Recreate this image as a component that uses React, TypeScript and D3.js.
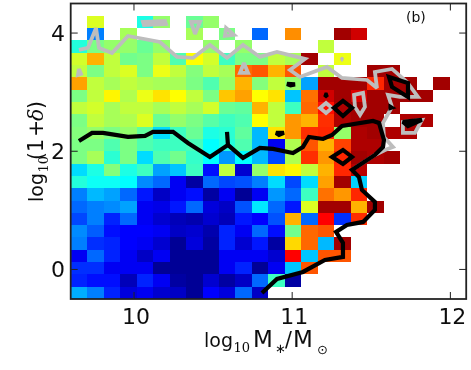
import React, { useRef, useEffect } from "react";
import * as d3 from "d3";

const _ = null;
// colour value (0-1 on the jet map) per cell, top row first, 24 x 24 bins
const densityRows = [
  [_, _, _, _, _, _, _, _, _, _, _, _, _, _, _, _, _, _, _, _, _, _, _, _],
  [_, .58, _, _, .36, .5, _, .45, .5, _, _, _, _, _, _, _, _, _, _, _, _, _, _, _],
  [_, .22, _, .52, _, _, _, .52, _, .47, _, .2, _, .74, _, _, .97, .93, _, _, _, _, _, _],
  [.37, .47, .5, .5, .45, .5, _, _, .5, _, .5, _, _, _, _, .55, _, _, _, _, _, _, _, _],
  [.57, .7, .55, .46, .47, .55, .42, .62, .57, .4, .47, .47, .55, .52, .97, _, .6, _, _, _, _, _, _, _],
  [.55, .47, .55, .58, .47, .6, .55, .48, .55, .52, .78, .8, .7, .8, _, .55, _, _, .97, .97, _, _, _, _],
  [.72, .55, .52, .55, .53, .52, .52, .47, .42, .5, .7, .48, .55, .5, .25, .97, .97, .97, .85, .97, .97, _, .97, _],
  [.47, .55, .63, .53, .6, .65, .62, .55, .47, .68, .72, .62, .65, .28, .77, .93, .97, .92, .97, .97, .97, .97, _, _],
  [.55, .57, .52, .55, .55, .52, .55, .52, .57, .45, .44, .7, .55, .4, .78, .88, .96, .97, .97, .97, _, _, _, _],
  [.47, .55, .52, .53, .58, .45, .5, .47, .43, .4, .42, .62, .55, .73, .7, .84, .96, .97, .97, _, .96, .96, _, _],
  [.48, .5, .47, .5, .44, .3, .4, .45, .36, .38, .44, .27, .65, .73, .84, .85, .5, .96, .97, .96, .96, _, _, _],
  [.47, .47, .42, .47, .42, .4, .4, .41, .33, .37, .42, .27, .1, .53, .8, .7, .82, .96, .96, _, _, _, _, _],
  [.47, .52, .38, .47, .3, .42, .46, .39, .33, .24, .33, .27, .17, .53, .84, .73, .85, .97, .96, .97, _, _, _, _],
  [.3, .36, .48, .36, .4, .25, .28, .4, .12, .55, .07, .5, .65, .63, .55, .7, .85, .95, _, _, _, _, _, _],
  [.37, .34, .34, .33, .23, .2, .1, .03, .2, .17, .18, .22, .3, .17, .3, .72, .97, .29, _, _, _, _, _, _],
  [.22, .27, .25, .2, .13, .06, .1, .12, .03, .1, .02, .1, .24, .2, .4, .77, .73, .85, _, _, _, _, _, _],
  [.2, .22, .23, .25, .1, .09, .13, .2, .08, .06, .18, .31, .2, .13, .58, .97, .97, .7, .97, _, _, _, _, _],
  [.17, .22, .14, .2, .1, .07, .05, .04, .07, .05, .13, .11, .18, .7, .2, .89, .15, .84, _, _, _, _, _, _],
  [.23, .19, .12, .11, .11, .1, .06, .07, .04, .14, .1, .2, .12, .46, .78, .8, _, _, _, _, _, _, _, _],
  [.22, .15, .14, .11, .1, .07, .02, .08, .03, .14, .07, .13, .03, .66, .78, .27, .97, _, _, _, _, _, _, _],
  [.1, .2, .14, .1, .06, .1, .02, .02, .02, .1, .1, .1, .07, .89, .28, .8, .8, _, _, _, _, _, _, _],
  [.15, .15, .1, .1, .1, .02, .02, .02, .02, .1, .14, .02, .1, .28, .8, _, _, _, _, _, _, _, _, _],
  [.14, .12, .12, .05, .14, .1, .03, .02, .07, .03, .06, .2, .4, .03, _, _, _, _, _, _, _, _, _, _],
  [.26, .22, .14, .08, .1, .07, .06, .02, .11, .08, .2, .06, _, _, _, _, _, _, _, _, _, _, _, _],
];

// contours as [log mass, log(1+delta)]
const blackMain = [
  [9.652, 2.174], [9.735, 2.31], [9.804, 2.31], [9.962, 2.242], [10.07, 2.259], [10.12, 2.327],
  [10.247, 2.327], [10.341, 2.14], [10.48, 1.904], [10.594, 2.107], [10.588, 2.327], [10.594, 2.107],
  [10.689, 1.887], [10.796, 2.056], [10.879, 2.039], [11.005, 1.971], [11.068, 2.073], [11.106, 2.242],
  [11.195, 2.208], [11.252, 2.276], [11.315, 2.428], [11.511, 2.513], [11.549, 2.479], [11.58, 2.191],
  [11.574, 2.073], [11.523, 1.937], [11.378, 1.684], [11.422, 1.565], [11.441, 1.345], [11.523, 1.142],
  [11.523, 1.007], [11.448, 0.804], [11.346, 0.753], [11.277, 0.635], [11.321, 0.448], [11.321, 0.212],
  [11.207, 0.161], [11.068, -0.042], [10.904, -0.161], [10.809, -0.398],
];
const blackLoops = [
  [[11.252, 1.904], [11.321, 2.022], [11.378, 1.904], [11.321, 1.785]],
  [[11.264, 2.733], [11.321, 2.851], [11.378, 2.733], [11.321, 2.597]],
  [[10.967, 3.139], [11.018, 3.13], [10.99, 3.115]],
  [[11.205, 2.96], [11.223, 2.96], [11.214, 2.94]],
  [[11.622, 2.75], [11.628, 2.74], [11.622, 2.735]],
  [[10.898, 2.31], [10.948, 2.31], [10.917, 2.276]],
  [[11.612, 3.257], [11.732, 3.156], [11.732, 2.919], [11.631, 3.088]],
  [[11.7, 2.496], [11.82, 2.53], [11.732, 2.428]],
];
const greyMain = [
  [9.652, 3.714], [9.709, 3.748], [9.76, 4.086], [9.779, 3.748], [9.861, 3.663], [9.962, 3.951],
  [10.164, 3.849], [10.272, 3.596], [10.373, 3.579], [10.48, 3.799], [10.588, 3.579], [10.689, 3.799],
  [10.796, 3.596], [10.904, 3.68], [11.081, 3.562], [10.986, 3.376], [11.049, 3.257], [11.22, 3.426],
  [11.315, 3.24], [11.473, 3.206], [11.536, 3.071], [11.523, 3.342], [11.631, 3.393], [11.726, 3.173],
  [11.795, 2.919], [11.681, 2.919], [11.606, 2.953], [11.631, 2.75], [11.574, 2.479], [11.58, 2.242],
  [11.637, 2.073], [11.587, 2.022], [11.523, 1.937], [11.378, 1.684],
];
const greyLoops = [
  [[10.057, 4.188], [10.196, 4.205], [10.202, 4.154], [10.063, 4.137]],
  [[10.36, 4.188], [10.417, 4.188], [10.386, 3.985]],
  [[10.582, 4.086], [10.632, 3.968], [10.575, 3.951]],
  [[9.652, 3.393], [9.665, 3.308], [9.646, 3.291]],
  [[10.695, 3.494], [10.721, 3.325], [10.67, 3.325]],
  [[11.315, 3.562], [11.32, 3.55], [11.31, 3.55]],
  [[11.176, 2.733], [11.214, 2.817], [11.252, 2.733], [11.214, 2.648]],
  [[11.391, 2.953], [11.448, 2.987], [11.46, 2.75], [11.429, 2.614], [11.397, 2.75]],
  [[11.7, 2.496], [11.82, 2.53], [11.776, 2.31], [11.7, 2.31]],
];

const xTicks = [10, 11, 12];
const yTicks = [0, 2, 4];

const width = 471;
const height = 370;
const font = "'DejaVu Sans', sans-serif";
const serif = "'DejaVu Serif', serif";
const ink = "#111";

function App() {
  const svgRef = useRef<SVGSVGElement>(null);

  useEffect(() => {
    const svg = d3.select(svgRef.current);
    svg.selectAll("*").remove();

    // the source picture was resampled, so everything is a touch soft
    svg.append("defs").append("filter")
      .attr("id", "soft")
      .attr("filterUnits", "userSpaceOnUse")
      .attr("x", 0).attr("y", 0).attr("width", width).attr("height", height)
      .append("feGaussianBlur")
      .attr("stdDeviation", 0.4);
    const root = svg.append("g").attr("filter", "url(#soft)");

    const xScale = d3.scaleLinear().domain([9.6, 12.1]).range([70.7, 466.2]);
    const yScale = d3.scaleLinear().domain([-0.5, 4.5]).range([299, 3.5]);
    const jet = d3.scaleLinear<string>()
      .domain([0, 0.11, 0.33, 0.62, 0.89, 1])
      .range(["#00007f", "#0000ff", "#00ffff", "#ffff00", "#ff0000", "#7f0000"]);

    const nBins = densityRows.length;
    const xEdge = d3.scaleLinear().domain([0, nBins]).range(xScale.domain());
    const yEdge = d3.scaleLinear().domain([0, nBins]).range([4.5, -0.5]);

    const cells = densityRows.flatMap((row, r) =>
      row.map((v, c) => ({ r, c, v })).filter((d) => d.v !== null)
    );
    root.append("g")
      .attr("shape-rendering", "crispEdges")
      .selectAll("rect")
      .data(cells)
      .join("rect")
      .attr("x", (d) => xScale(xEdge(d.c)))
      .attr("y", (d) => yScale(yEdge(d.r)))
      .attr("width", (d) => xScale(xEdge(d.c + 1)) - xScale(xEdge(d.c)))
      .attr("height", (d) => yScale(yEdge(d.r + 1)) - yScale(yEdge(d.r)))
      .attr("fill", (d) => jet(d.v as number));

    const lineFunc = d3.line()
      .x((d) => xScale(d[0]))
      .y((d) => yScale(d[1]));
    const loopFunc = d3.line()
      .x((d) => xScale(d[0]))
      .y((d) => yScale(d[1]))
      .curve(d3.curveLinearClosed);

    const drawLines = (main: number[][], loops: number[][][], color: string, w: number) => {
      root.append("path")
        .attr("d", lineFunc(main as [number, number][]))
        .attr("fill", "none")
        .attr("stroke", color)
        .attr("stroke-width", w)
        .attr("stroke-linejoin", "miter")
        .attr("stroke-miterlimit", 2.5);
      root.append("g")
        .selectAll("path")
        .data(loops)
        .join("path")
        .attr("d", (d) => loopFunc(d as [number, number][]))
        .attr("fill", "none")
        .attr("stroke", color)
        .attr("stroke-width", w)
        .attr("stroke-linejoin", "miter")
        .attr("stroke-miterlimit", 2.5);
    };
    drawLines(greyMain, greyLoops, "#bdbdbd", 3.8);
    drawLines(blackMain, blackLoops, "#000000", 4.2);

    // frame and inward ticks
    root.append("rect")
      .attr("x", xScale(9.6))
      .attr("y", yScale(4.5))
      .attr("width", xScale(12.1) - xScale(9.6))
      .attr("height", yScale(-0.5) - yScale(4.5))
      .attr("fill", "none")
      .attr("stroke", "#222")
      .attr("stroke-width", 1.8);

    xTicks.forEach((t) => {
      [[yScale(-0.5), yScale(-0.5) - 7], [yScale(4.5), yScale(4.5) + 7]].forEach(([a, b]) => {
        root.append("line").attr("x1", xScale(t)).attr("x2", xScale(t)).attr("y1", a).attr("y2", b)
          .attr("stroke", "#222").attr("stroke-width", 1);
      });
      root.append("text")
        .attr("x", xScale(t) + 2)
        .attr("y", 324)
        .attr("text-anchor", "middle")
        .attr("font-family", font)
        .attr("font-size", 22)
        .attr("fill", ink)
        .text(t);
    });
    yTicks.forEach((t) => {
      [[xScale(9.6), xScale(9.6) + 7], [xScale(12.1), xScale(12.1) - 7]].forEach(([a, b]) => {
        root.append("line").attr("x1", a).attr("x2", b).attr("y1", yScale(t)).attr("y2", yScale(t))
          .attr("stroke", "#222").attr("stroke-width", 1);
      });
      root.append("text")
        .attr("x", 65)
        .attr("y", yScale(t) + 8)
        .attr("text-anchor", "end")
        .attr("font-family", font)
        .attr("font-size", 22)
        .attr("fill", ink)
        .text(t);
    });

    root.append("text")
      .attr("x", 406)
      .attr("y", 22)
      .attr("font-family", font)
      .attr("font-size", 14)
      .attr("fill", ink)
      .text("(b)");

    const xLabel = root.append("text")
      .attr("y", 347)
      .attr("font-family", font)
      .attr("font-size", 19)
      .attr("fill", ink);
    xLabel.append("tspan").attr("x", 204).text("log");
    xLabel.append("tspan").attr("x", 233.5).attr("dy", 5).attr("font-size", 13).attr("font-family", serif).text("10");
    xLabel.append("tspan").attr("x", 253).attr("dy", -5).attr("font-size", 23).text("M");
    xLabel.append("tspan").attr("x", 275).attr("dy", 6).attr("font-size", 13).text("∗");
    xLabel.append("tspan").attr("x", 285).attr("dy", -6).attr("font-size", 20.5).text("/");
    xLabel.append("tspan").attr("x", 293).attr("font-size", 23).text("M");
    xLabel.append("tspan").attr("x", 317).attr("dy", 7).attr("font-size", 13).text("⊙");

    const yLabel = root.append("text")
      .attr("transform", "translate(43,202) rotate(-90)")
      .attr("font-family", font)
      .attr("font-size", 19)
      .attr("fill", ink);
    yLabel.append("tspan").attr("x", 0).text("log");
    yLabel.append("tspan").attr("x", 29.5).attr("dy", 5).attr("font-size", 13).attr("font-family", serif).text("10");
    yLabel.append("tspan").attr("x", 42).attr("dy", -5).attr("font-size", 20.5).text("(");
    yLabel.append("tspan").attr("x", 50).attr("font-size", 20.5).text("1");
    yLabel.append("tspan").attr("x", 65).attr("font-size", 20.5).text("+");
    yLabel.append("tspan").attr("x", 81).attr("font-size", 20.5).attr("font-family", serif).attr("font-style", "italic").text("δ");
    yLabel.append("tspan").attr("x", 93).attr("font-size", 20.5).text(")");
  }, []);

  return (
    <svg
      ref={svgRef}
      width={width}
      height={height}
      style={{ position: "absolute", left: 0, top: 0, background: "#fff" }}
    ></svg>
  );
}

export default App;
